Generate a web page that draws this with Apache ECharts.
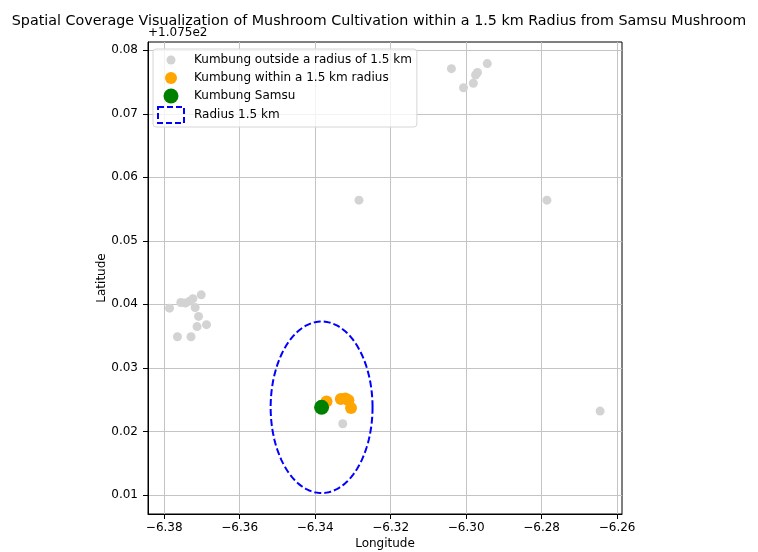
<!DOCTYPE html>
<html>
<head>
<meta charset="utf-8">
<script src="https://cdn.jsdelivr.net/npm/echarts@6/dist/echarts.min.js"></script>
<style>
  html, body { margin: 0; padding: 0; background: #fff; }
  #chart { width: 758px; height: 552px; }
</style>
</head>
<body>
<div id="chart"></div>
<script>
// kumbung locations (longitude, latitude - 107.5)
const outsidePoints = [
  [-6.3786, 0.0394], [-6.3756, 0.0403], [-6.3744, 0.0402], [-6.3733, 0.0405],
  [-6.3724, 0.0409], [-6.3702, 0.0415], [-6.3718, 0.0395], [-6.3709, 0.0381],
  [-6.3713, 0.0365], [-6.3688, 0.0368], [-6.3765, 0.0349], [-6.3729, 0.0349],
  [-6.3039, 0.0771], [-6.2944, 0.0779], [-6.2970, 0.0765], [-6.2975, 0.0761],
  [-6.2981, 0.0748], [-6.3007, 0.0741], [-6.3284, 0.0564], [-6.2786, 0.0564],
  [-6.2645, 0.0232], [-6.3327, 0.0212], [-6.3390, 0.0238]
]
const withinPoints = [
  [-6.3370, 0.0247], [-6.3332, 0.0251], [-6.3320, 0.0252], [-6.3312, 0.0249], [-6.3305, 0.0237]
]
const samsuPoint = [-6.3383, 0.0238]
const radiusDeg = 0.0135

// ticks
const xTicks = [-6.38, -6.36, -6.34, -6.32, -6.30, -6.28, -6.26]
const yTicks = [0.01, 0.02, 0.03, 0.04, 0.05, 0.06, 0.07, 0.08]

const fontFamily = "DejaVu Sans"
const chart = echarts.init(document.getElementById("chart"))

// legend circle icon with a fixed 26x16 box so sizes differ
const dotIcon = r => "path://M0 0M26 16M" + (13 - r) + " 8a" + r + " " + r + " 0 1 0 " + (2 * r) + " 0a" + r + " " + r + " 0 1 0 " + (-2 * r) + " 0Z"

chart.setOption({
  animation: false,
  textStyle: { fontFamily },
  title: {
    text: "Spatial Coverage Visualization of Mushroom Cultivation within a 1.5 km Radius from Samsu Mushroom",
    left: "center",
    top: 9,
    textStyle: { fontSize: 14.3, fontWeight: "normal", color: "#000", fontFamily }
  },
  graphic: [{
    type: "text",
    left: 148,
    top: 27,
    style: { text: "+1.075e2", fontSize: 12, fill: "#000", fontFamily }
  }],
  legend: {
    orient: "vertical",
    left: 153,
    top: 49,
    padding: [3, 5, 3, 4],
    itemWidth: 26,
    itemHeight: 16,
    itemGap: 2,
    backgroundColor: "rgba(255,255,255,0.8)",
    borderColor: "#d6d6d6",
    borderWidth: 1,
    borderRadius: 3,
    selectedMode: false,
    textStyle: { fontSize: 12, color: "#000", fontFamily, padding: [0, 0, 0, 5] },
    data: [
      { name: "Kumbung outside a radius of 1.5 km", icon: dotIcon(4.5) },
      { name: "Kumbung within a 1.5 km radius", icon: dotIcon(6) },
      { name: "Kumbung Samsu", icon: dotIcon(7.5) },
      {
        name: "Radius 1.5 km",
        icon: "rect",
        itemStyle: { color: "rgba(0,0,0,0)", borderColor: "#0000ff", borderWidth: 2, borderType: [6, 3] }
      }
    ]
  },
  grid: {
    left: 148, right: 136, top: 42, bottom: 38,
    outerBoundsMode: "none",
    containLabel: false,
    show: true, borderColor: "#000", borderWidth: 1
  },
  xAxis: {
    type: "value",
    min: -6.3843,
    max: -6.2587,
    splitNumber: 6,
    name: "Longitude",
    nameLocation: "middle",
    nameGap: 24,
    nameMoveOverlap: false,
    nameTextStyle: { fontSize: 12, color: "#000" },
    axisLine: { show: true, onZero: false, lineStyle: { color: "#000" } },
    axisTick: { show: true, length: 5, customValues: xTicks, lineStyle: { color: "#000" } },
    axisLabel: {
      customValues: xTicks,
      fontSize: 12, color: "#000", margin: 8,
      formatter: v => (v < 0 ? "\u2212" : "") + Math.abs(v).toFixed(2)
    },
    splitLine: { show: true, lineStyle: { color: "#c4c4c4", width: 1 } }
  },
  yAxis: {
    type: "value",
    min: 0.0070,
    max: 0.0813,
    splitNumber: 7,
    name: "Latitude",
    nameLocation: "middle",
    nameGap: 40,
    nameMoveOverlap: false,
    nameRotate: 90,
    nameTextStyle: { fontSize: 12, color: "#000" },
    axisLine: { show: true, onZero: false, lineStyle: { color: "#000" } },
    axisTick: { show: true, length: 5, customValues: yTicks, lineStyle: { color: "#000" } },
    axisLabel: {
      customValues: yTicks,
      fontSize: 12, color: "#000", margin: 10,
      formatter: v => v.toFixed(2)
    },
    splitLine: { show: true, lineStyle: { color: "#c4c4c4", width: 1 } }
  },
  series: [
    {
      name: "Kumbung outside a radius of 1.5 km",
      type: "scatter",
      symbolSize: 9,
      itemStyle: { color: "#d3d3d3", opacity: 1 },
      data: outsidePoints,
      z: 2
    },
    {
      name: "Kumbung within a 1.5 km radius",
      type: "scatter",
      symbolSize: 12,
      itemStyle: { color: "#ffa500", opacity: 1 },
      data: withinPoints,
      z: 3
    },
    {
      name: "Kumbung Samsu",
      type: "scatter",
      symbolSize: 15,
      itemStyle: { color: "#008000", opacity: 1 },
      data: [samsuPoint],
      z: 4
    },
    {
      name: "Radius 1.5 km",
      type: "custom",
      itemStyle: { color: "#0000ff" },
      data: [[samsuPoint[0], samsuPoint[1], radiusDeg]],
      renderItem: (params, api) => {
        const cx = api.value(0), cy = api.value(1), r = api.value(2)
        const pts = []
        for (let i = 0; i <= 180; i++) {
          const a = i / 180 * Math.PI * 2
          pts.push(api.coord([cx + r * Math.cos(a), cy + r * Math.sin(a)]))
        }
        return {
          type: "polyline",
          shape: { points: pts },
          style: { stroke: "#0000ff", lineWidth: 2, lineDash: [7, 3], fill: null }
        }
      },
      z: 5
    }
  ]
})
</script>
</body>
</html>
